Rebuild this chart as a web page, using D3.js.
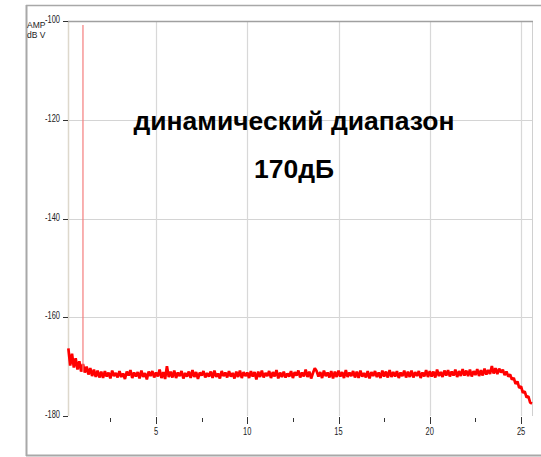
<!DOCTYPE html>
<html>
<head>
<meta charset="utf-8">
<script src="https://cdn.jsdelivr.net/npm/d3@7"></script>
<style>
  html, body { margin: 0; padding: 0; background: #fff; }
  svg { display: block; }
  .tick-label { font-family: "Liberation Sans", Arial, sans-serif; font-size: 10px; fill: #222; }
  .cap { font-family: "Liberation Sans", Arial, sans-serif; font-size: 8.5px; fill: #222; }
  .note { font-family: "Liberation Sans", Arial, sans-serif; font-weight: bold; font-size: 26.5px; fill: #000; }
</style>
</head>
<body>
<div id="chart"></div>
<script>
// y axis ticks (dB V)
var yTicks = [-100, -120, -140, -160, -180];
// x axis ticks (kHz), major labelled, minor unlabelled
var xMajor = [5, 10, 15, 20, 25];
var xMinor = [2.5, 7.5, 12.5, 17.5, 22.5];

// test tone
var toneFreq = 1.0;
var toneDb = -100.8;

// noise floor, one value per 0.1 kHz bin starting at 0.2
var freqStart = 0.2;
var freqStep = 0.1;
var noiseDb = [
  -166.3,-169.8,-167.4,-170.2,-168.3,-170.6,-168.9,-171.0,-169.5,-171.2,-170.0,-171.6,-170.3,-171.9,-170.6,-172.1,-170.8,-172.2,
  -171.0,-172.3,-170.9,-172.0,-171.2,-172.4,-170.8,-171.9,-171.3,-172.2,
  -170.9,-172.1,-171.4,-172.5,-171.0,-171.8,-170.7,-172.3,-171.2,-172.0,
  -171.1,-172.4,-170.8,-172.1,-171.3,-172.6,-171.0,-171.9,-170.9,-172.2,
  -171.2,-172.0,-170.6,-172.3,-171.1,-172.5,-169.9,-172.1,-171.0,-172.2,
  -170.8,-172.3,-171.2,-171.9,-170.9,-172.4,-171.3,-172.0,-171.0,-172.3,
  -170.7,-172.1,-171.1,-172.5,-171.2,-171.8,-170.9,-172.2,-171.3,-172.0,
  -171.0,-172.3,-170.8,-172.1,-171.4,-172.4,-170.9,-171.9,-171.2,-172.2,
  -170.9,-172.0,-171.3,-172.4,-171.0,-172.1,-170.8,-172.3,-171.1,-171.9,
  -171.2,-172.3,-170.9,-172.0,-171.1,-172.6,-171.0,-172.1,-170.8,-172.2,
  -171.3,-171.9,-170.9,-172.3,-171.1,-172.0,-170.7,-172.4,-171.2,-172.1,
  -171.0,-172.2,-171.4,-172.0,-170.9,-172.3,-171.1,-171.8,-170.8,-172.2,
  -171.2,-172.0,-170.6,-172.1,-171.0,-172.4,-171.3,-170.3,-170.9,-172.0,
  -171.1,-172.3,-170.8,-171.9,-171.2,-172.2,-170.9,-172.4,-171.0,-172.1,
  -170.8,-172.0,-171.1,-172.3,-170.7,-172.1,-171.2,-171.9,-170.9,-172.2,
  -171.0,-172.3,-170.8,-172.0,-171.3,-172.2,-170.9,-172.4,-171.1,-171.9,
  -170.9,-172.1,-171.2,-172.3,-170.8,-172.0,-171.0,-172.2,-170.7,-172.1,
  -171.1,-172.0,-170.9,-172.3,-171.2,-171.9,-170.8,-172.2,-171.0,-172.1,
  -170.8,-172.2,-171.1,-171.9,-170.9,-172.3,-171.2,-172.0,-170.7,-172.1,
  -170.9,-172.0,-171.0,-172.2,-170.6,-171.9,-171.1,-172.1,-170.8,-171.8,
  -170.7,-172.0,-171.0,-171.8,-170.6,-172.1,-170.9,-171.9,-170.5,-171.8,
  -170.8,-171.9,-170.6,-172.0,-170.9,-171.7,-170.5,-171.9,-170.7,-171.8,
  -170.4,-171.6,-170.7,-171.5,-169.9,-171.4,-170.3,-171.5,-170.4,-171.2,
  -170.6,-171.7,-171.0,-172.0,-171.6,-172.6,-172.3,-173.5,-173.0,-174.3,
  -174.0,-175.3,-175.0,-176.2,-176.0,-177.3,-177.5
];

var noteLines = ["динамический диапазон", "170дБ"];

function draw() {
  var width = 541, height = 457;
  var left = 68, right = 532, top = 21, bottom = 416;

  var svg = d3.select("#chart").append("svg")
    .attr("width", width)
    .attr("height", height);

  var x = d3.scaleLinear().domain([0.18, 25.6]).range([left, right]);
  var y = d3.scaleLinear().domain([-180, -100]).range([bottom, top]);

  // outer frame
  svg.append("line").attr("x1", 26).attr("x2", 541).attr("y1", 5.5).attr("y2", 5.5)
    .attr("stroke", "#a8a8a8").attr("stroke-width", 1.5);
  svg.append("line").attr("x1", 26).attr("x2", 541).attr("y1", 455.5).attr("y2", 455.5)
    .attr("stroke", "#a8a8a8").attr("stroke-width", 2);
  svg.append("line").attr("x1", 26.5).attr("x2", 26.5).attr("y1", 5).attr("y2", 456)
    .attr("stroke", "#a8a8a8").attr("stroke-width", 2);

  // grid
  var grid = svg.append("g");
  grid.selectAll("line.h")
    .data(yTicks.filter(d => d > -180 && d < -100))
    .enter().append("line")
    .attr("x1", left).attr("x2", right)
    .attr("y1", d => Math.round(y(d)) + 0.5).attr("y2", d => Math.round(y(d)) + 0.5)
    .attr("stroke", "#d4d4d4");
  grid.selectAll("line.v")
    .data(xMajor)
    .enter().append("line")
    .attr("x1", d => Math.round(x(d)) + 0.5).attr("x2", d => Math.round(x(d)) + 0.5)
    .attr("y1", top).attr("y2", bottom)
    .attr("stroke", "#d8d8d8").attr("stroke-width", 1.2);

  // plot frame
  grid.append("line").attr("x1", left + 0.5).attr("x2", left + 0.5).attr("y1", top).attr("y2", bottom)
    .attr("stroke", "#ddd8cc").attr("stroke-width", 1.5);
  grid.append("line").attr("x1", right + 0.5).attr("x2", right + 0.5).attr("y1", top).attr("y2", bottom)
    .attr("stroke", "#d0d0d0");
  grid.append("line").attr("x1", left).attr("x2", right + 1).attr("y1", top + 0.5).attr("y2", top + 0.5)
    .attr("stroke", "#a0a0a0").attr("stroke-width", 1.5);

  // y ticks
  var yAxis = svg.append("g");
  yAxis.selectAll("line")
    .data(yTicks).enter().append("line")
    .attr("x1", left - 5).attr("x2", left)
    .attr("y1", d => Math.round(y(d)) + 0.5).attr("y2", d => Math.round(y(d)) + 0.5)
    .attr("stroke", "#333");
  yAxis.selectAll("text")
    .data(yTicks).enter().append("text")
    .attr("class", "tick-label")
    .attr("transform", d => "translate(" + (left - 8) + "," + (y(d) + 2) + ") scale(0.75,1)")
    .attr("text-anchor", "end")
    .text(d => d);

  // x ticks
  var xAxis = svg.append("g");
  xAxis.selectAll("line.major")
    .data(xMajor).enter().append("line")
    .attr("x1", d => Math.round(x(d)) + 0.5).attr("x2", d => Math.round(x(d)) + 0.5)
    .attr("y1", bottom + 1).attr("y2", bottom + 8)
    .attr("stroke", "#333");
  xAxis.selectAll("line.minor")
    .data(xMinor).enter().append("line")
    .attr("x1", d => Math.round(x(d)) + 0.5).attr("x2", d => Math.round(x(d)) + 0.5)
    .attr("y1", bottom + 2).attr("y2", bottom + 6)
    .attr("stroke", "#333");
  xAxis.selectAll("text")
    .data(xMajor).enter().append("text")
    .attr("class", "tick-label")
    .attr("transform", d => "translate(" + x(d) + "," + (bottom + 19) + ") scale(0.75,1)")
    .attr("text-anchor", "middle")
    .text(d => d);

  // axis caption
  svg.append("text").attr("class", "cap")
    .attr("x", 27).attr("y", 28).text("AMP");
  svg.append("text").attr("class", "cap")
    .attr("x", 27).attr("y", 38).text("dB V");

  // noise floor
  var pts = noiseDb.map((v, i) => [freqStart + i * freqStep, v]);
  var line = d3.line().x(d => x(d[0])).y(d => y(d[1]));
  svg.append("path")
    .datum(pts)
    .attr("d", line)
    .attr("fill", "none")
    .attr("stroke", "#ff0000")
    .attr("stroke-width", 2.7)
    .attr("stroke-linejoin", "bevel");

  // test tone spike
  svg.append("line")
    .attr("x1", x(toneFreq)).attr("x2", x(toneFreq))
    .attr("y1", y(toneDb)).attr("y2", y(-171))
    .attr("stroke", "#f47c7c").attr("stroke-width", 1.2);

  // annotation
  svg.selectAll("text.note")
    .data(noteLines).enter().append("text")
    .attr("class", "note")
    .attr("x", 294)
    .attr("y", (d, i) => 130 + i * 48)
    .attr("text-anchor", "middle")
    .text(d => d);
}

draw();
</script>
</body>
</html>
